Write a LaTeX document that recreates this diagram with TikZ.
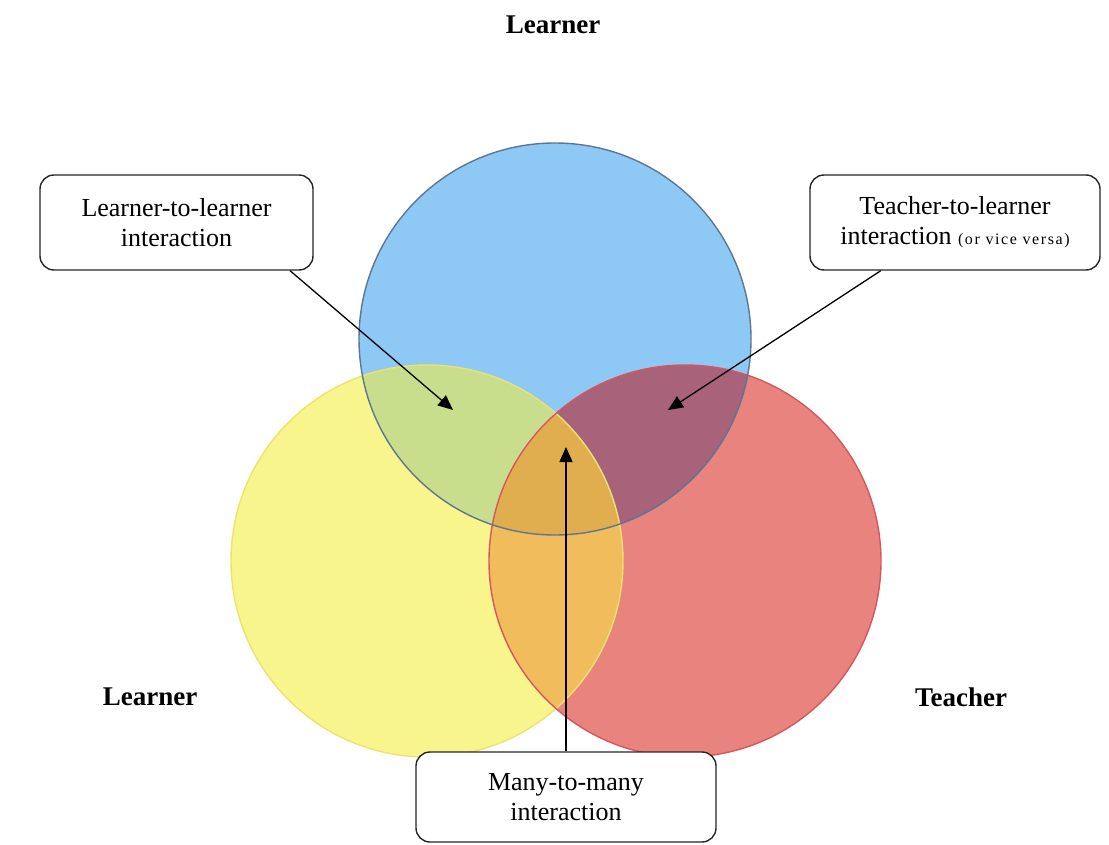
\documentclass[tikz,border=0pt]{standalone}
\usepackage{fontspec}
\setmainfont{Liberation Serif}
\newfontfamily\widefont[LetterSpace=10]{Liberation Serif}
\usetikzlibrary{arrows.meta}

\definecolor{skyfill}{RGB}{142,201,246}
\definecolor{sunfill}{RGB}{248,245,140}
\definecolor{rosefill}{RGB}{232,131,126}
\definecolor{skysun}{RGB}{200,222,140}
\definecolor{skyrose}{RGB}{168,98,122}
\definecolor{sunrose}{RGB}{240,188,92}
\definecolor{allthree}{RGB}{224,174,78}
\definecolor{skyline}{RGB}{92,118,148}
\definecolor{sunline}{RGB}{236,226,112}
\definecolor{roseline}{RGB}{214,86,96}

\tikzset{
  callout/.style={draw=black!85, line width=1.4pt, rounded corners=14pt, fill=white,
    align=center, inner sep=0pt, font=\fontsize{26}{30}\selectfont},
  role/.style={font=\fontsize{27}{30}\selectfont\bfseries},
  pointer/.style={-{Triangle[length=15pt,width=13pt]}, line width=1.3pt}
}

\begin{document}
\begin{tikzpicture}[x=1pt, y=-1pt]
\useasboundingbox (0,0) rectangle (1109,845);

% the three circles
\coordinate (cSky) at (555,339);
\coordinate (cSun) at (427,561);
\coordinate (cRose) at (685,561);

\fill[sunfill] (cSun) circle [radius=196pt];
\fill[rosefill] (cRose) circle [radius=196pt];
\fill[skyfill] (cSky) circle [radius=196pt];

% overlaps
\begin{scope}
  \clip (cSky) circle [radius=196pt];
  \fill[skysun] (cSun) circle [radius=196pt];
  \fill[skyrose] (cRose) circle [radius=196pt];
\end{scope}
\begin{scope}
  \clip (cSun) circle [radius=196pt];
  \fill[sunrose] (cRose) circle [radius=196pt];
  \clip (cSky) circle [radius=196pt];
  \fill[allthree] (cRose) circle [radius=196pt];
\end{scope}

\draw[sunline, line width=1.4pt] (cSun) circle [radius=196pt];
\draw[roseline, line width=1.4pt] (cRose) circle [radius=196pt];
\draw[skyline, line width=1.4pt] (cSky) circle [radius=196pt];

% role labels
\node[role] (learnerTop) at (553,25) {Learner};
\node[role] (learnerLeft) at (150,697) {Learner};
\node[role] (teacher) at (961,697) {Teacher};

% callouts
\node[callout, minimum width=273pt, minimum height=95pt] (l2l) at (176.5,222.5)
  {Learner-to-learner\\interaction};
\node[callout, minimum width=290pt, minimum height=95pt] (t2l) at (955,222.5)
  {Teacher-to-learner\\interaction {\widefont\fontsize{16}{30}\selectfont(or vice versa)}};
\node[callout, minimum width=300pt, minimum height=90pt] (m2m) at (566,797)
  {Many-to-many\\interaction};

% arrow tips
\coordinate (l2lTip) at (453,410);
\coordinate (t2lTip) at (668,410);
\coordinate (m2mTip) at (566,447);

\draw[pointer] (l2l.-23) -- (l2lTip);
\draw[pointer] (t2l.-147) -- (t2lTip);
\draw[pointer] (m2m.north) -- (m2mTip);

\end{tikzpicture}
\end{document}
